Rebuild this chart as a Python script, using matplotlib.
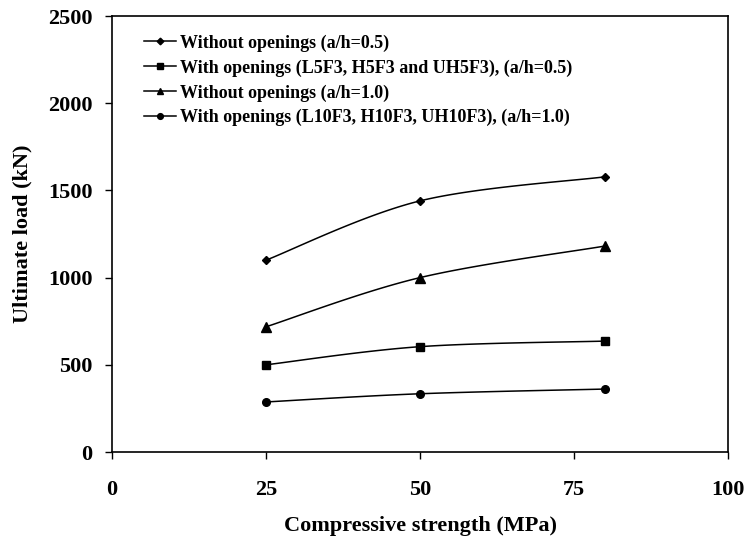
import numpy as np
import matplotlib
matplotlib.use("Agg")
import matplotlib.pyplot as plt

plt.rcParams['font.family'] = ['Liberation Serif', 'DejaVu Serif']
plt.rcParams['font.weight'] = 'bold'

# compressive strength (MPa)
strength = [25, 50, 80]

# ultimate load (kN)
without_05 = [1100, 1440, 1578]
with_05 = [500, 604, 636]
without_10 = [718, 1000, 1181]
with_10 = [287, 334, 361]

labels = [
    "Without openings (a/h=0.5)",
    "With openings (L5F3, H5F3 and UH5F3), (a/h=0.5)",
    "Without openings (a/h=1.0)",
    "With openings (L10F3, H10F3, UH10F3), (a/h=1.0)",
]
markers = ["D", "s", "^", "o"]
marker_sizes = [4.5, 5.5, 6.5, 5.5]


def smooth(x, y, n=40):
    # excel-like smoothed line: cubic bezier with catmull-rom control points
    x = np.asarray(x, float)
    y = np.asarray(y, float)
    px = np.concatenate([[x[0]], x, [x[-1]]])
    py = np.concatenate([[y[0]], y, [y[-1]]])
    xs, ys = [], []
    t = np.linspace(0, 1, n)
    for i in range(1, len(px) - 2):
        p0 = np.array([px[i], py[i]])
        p3 = np.array([px[i + 1], py[i + 1]])
        p1 = p0 + (np.array([px[i + 1], py[i + 1]]) - np.array([px[i - 1], py[i - 1]])) / 6
        p2 = p3 - (np.array([px[i + 2], py[i + 2]]) - np.array([px[i], py[i]])) / 6
        b = ((1 - t) ** 3)[:, None] * p0 + (3 * (1 - t) ** 2 * t)[:, None] * p1 \
            + (3 * (1 - t) * t ** 2)[:, None] * p2 + (t ** 3)[:, None] * p3
        xs.extend(b[:, 0])
        ys.extend(b[:, 1])
    return xs, ys


fig = plt.figure(figsize=(7.5, 5.36), dpi=100)
ax = fig.add_axes([0.1493, 0.1567, 0.8214, 0.8134])

series = [without_05, with_05, without_10, with_10]
for vals, lab, m, ms in zip(series, labels, markers, marker_sizes):
    sx, sy = smooth(strength, vals)
    ax.plot(sx, sy, color='black', lw=1.1)
    ax.plot(strength, vals, linestyle='none', marker=m, color='black', markersize=ms)
    ax.plot([], [], color='black', lw=1.1, marker=m, markersize=ms * 0.75, label=lab)

ax.set_xlim(0, 100)
ax.set_ylim(0, 2500)
ax.set_xticks([0, 25, 50, 75, 100])
ax.set_yticks([0, 500, 1000, 1500, 2000, 2500])
ax.tick_params(axis='both', direction='out', length=5, width=1, labelsize=16)
ax.tick_params(axis='y', pad=9)
ax.tick_params(axis='x', pad=15)
for s in ax.spines.values():
    s.set_linewidth(1.2)

ax.set_xlabel("Compressive strength (MPa)", fontsize=16, fontweight='bold', labelpad=12)
ax.set_ylabel("Ultimate load (kN)", fontsize=16, fontweight='bold', labelpad=11)

ax.legend(loc='upper left', frameon=False, handlelength=1.75,
          handletextpad=0.25, labelspacing=0.42, bbox_to_anchor=(0.026, 0.995),
          prop={'weight': 'bold', 'size': 13})

fig.savefig("out.png", dpi=100)
